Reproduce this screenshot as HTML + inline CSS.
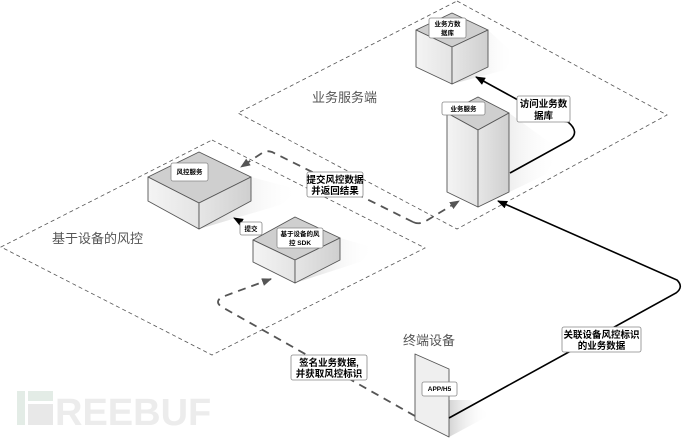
<!DOCTYPE html>
<html><head><meta charset="utf-8"><style>
html,body{margin:0;padding:0;background:#fff;}
svg{display:block}
text{font-family:"Liberation Sans","Noto Sans CJK SC",sans-serif;}
</style></head><body>
<svg width="690" height="438" viewBox="0 0 690 438" xmlns="http://www.w3.org/2000/svg">
<defs>
<linearGradient id="sh" x1="0" y1="0" x2="1" y2="0"><stop offset="0" stop-color="#888" stop-opacity="0.6"/><stop offset="1" stop-color="#fff" stop-opacity="0"/></linearGradient>
<linearGradient id="lf" x1="0" y1="0" x2="1" y2="0"><stop offset="0" stop-color="#f4f4f4"/><stop offset="1" stop-color="#e4e4e4"/></linearGradient>
<linearGradient id="rf" x1="0" y1="0" x2="1" y2="0"><stop offset="0" stop-color="#e6e6e6"/><stop offset="1" stop-color="#cfcfcf"/></linearGradient>
<marker id="ab" markerWidth="10" markerHeight="8" refX="9" refY="4" orient="auto" markerUnits="userSpaceOnUse"><path d="M0,0 L10,4 L0,8 Z" fill="#000"/></marker>
<marker id="ag" markerWidth="10" markerHeight="8" refX="9" refY="4" orient="auto" markerUnits="userSpaceOnUse"><path d="M0,0 L10,4 L0,8 Z" fill="#555"/></marker>
</defs>
<!-- watermark -->
<rect x="17" y="391" width="8" height="34" fill="#e3ece6"/>
<rect x="28" y="391" width="25" height="10" fill="#e3ece6"/>
<rect x="28" y="404" width="25" height="21" fill="#e8e8e8"/>
<text x="55" y="425" font-size="38" font-weight="bold" fill="#ececec" style="font-family:'Liberation Sans',sans-serif">REEBUF</text>
<!-- regions -->
<polygon points="457,1 667,115 457,229 238,113" fill="none" stroke="#555" stroke-width="0.8" stroke-dasharray="4,3"/>
<polygon points="212,140 425,248 212,355 1,247" fill="none" stroke="#555" stroke-width="0.8" stroke-dasharray="4,3"/>
<text x="312" y="102" font-size="13" fill="#555">业务服务端</text>
<text x="52" y="243" font-size="13" fill="#555">基于设备的风控</text>
<text x="403" y="345" font-size="13" fill="#555">终端设备</text>
<!-- shadows -->
<polygon points="251,177 251,201 199,229 280,205 300,190" fill="url(#sh)" opacity="0.6"/>
<polygon points="340,238 340,260 295,283 360,262 375,248" fill="url(#sh)" opacity="0.6"/>
<polygon points="488,30 488,67 452,84 505,70 515,55" fill="url(#sh)" opacity="0.6"/>
<polygon points="509,113 509,192 478,207 545,175 560,150" fill="url(#sh)" opacity="0.6"/>
<polygon points="449,400 449,437 490,415 470,400" fill="url(#sh)" opacity="0.6"/>
<!-- risk box -->
<g stroke="#555" stroke-width="0.9" stroke-linejoin="round">
<polygon points="199,152 251,177 199,203 148,177" fill="#cfcfcf"/>
<polygon points="148,177 199,203 199,229 148,201" fill="url(#lf)"/>
<polygon points="199,203 251,177 251,201 199,229" fill="url(#rf)"/>
<polygon points="295,217 340,238 295,260 253,240" fill="#cfcfcf"/>
<polygon points="253,240 295,260 295,283 253,262" fill="url(#lf)"/>
<polygon points="295,260 340,238 340,260 295,283" fill="url(#rf)"/>
<polygon points="452,13 488,30 452,47 416,30" fill="#cfcfcf"/>
<polygon points="416,30 452,47 452,84 416,67" fill="url(#lf)"/>
<polygon points="452,47 488,30 488,67 452,84" fill="url(#rf)"/>
<polygon points="478,97 509,113 478,130 447,113" fill="#cfcfcf"/>
<polygon points="447,113 478,130 478,207 447,192" fill="url(#lf)"/>
<polygon points="478,130 509,113 509,192 478,207" fill="url(#rf)"/>
<polygon points="415,354 449,369 449,437 415,420" fill="#efefef"/>
</g>
<!-- connectors -->
<path d="M413,222 L272,152 Q266,150 262,153 L241,167" fill="none" stroke="#555" stroke-width="1.8" stroke-dasharray="8,6" marker-end="url(#ag)"/>
<path d="M413,222 Q419,225 426,221 L459,201" fill="none" stroke="#555" stroke-width="1.8" stroke-dasharray="8,6" marker-end="url(#ag)"/>
<path d="M415,416 L222,307 Q214,302 222,297 L271,279" fill="none" stroke="#555" stroke-width="1.8" stroke-dasharray="8,6" marker-end="url(#ag)"/>
<path d="M449,418 L676,293 Q684,287 677,280 L498,201" fill="none" stroke="#000" stroke-width="1.6" marker-end="url(#ab)"/>
<path d="M510,173 L570,140 Q580,132 568,122 L546,118" fill="none" stroke="#000" stroke-width="1.6"/>
<path d="M518,100 L476,77" fill="none" stroke="#000" stroke-width="1.6" marker-end="url(#ab)"/>
<path d="M252,228 L234,218" fill="none" stroke="#000" stroke-width="1.2" marker-end="url(#ab)"/>
<!-- labels -->
<g stroke="#888" stroke-width="0.8" fill="#fff">
<rect x="171" y="163" width="37" height="18" rx="2"/>
<rect x="277" y="228" width="46" height="20" rx="2"/>
<rect x="240" y="222" width="22" height="13" rx="2"/>
<rect x="429" y="18" width="37" height="20" rx="2"/>
<rect x="442" y="102" width="43" height="13" rx="2"/>
<rect x="422" y="382" width="35" height="14" rx="2"/>
<rect x="517" y="96" width="53" height="26" rx="2"/>
<rect x="307" y="172" width="56" height="25" rx="2"/>
<rect x="291" y="355" width="76" height="25" rx="2"/>
<rect x="562" y="327" width="79" height="25" rx="2"/>
</g>
<g font-size="6.5" fill="#000" text-anchor="middle" font-weight="bold">
<text x="189.5" y="174">风控服务</text>
<text x="300" y="236">基于设备的风</text><text x="300" y="245">控 SDK</text>
<text x="251" y="231">提交</text>
<text x="447.5" y="26">业务方数</text><text x="447.5" y="35">据库</text>
<text x="463.5" y="111">业务服务</text>
<text x="439.5" y="391">APP/H5</text>
</g>
<g font-size="9.5" fill="#000" text-anchor="middle" font-weight="bold">
<text x="543.5" y="107">访问业务数</text><text x="543.5" y="119">据库</text>
<text x="335" y="183">提交风控数据</text><text x="335" y="194">并返回结果</text>
<text x="329" y="366">签名业务数据,</text><text x="329" y="377">并获取风控标识</text>
<text x="601.5" y="338">关联设备风控标识</text><text x="601.5" y="349">的业务数据</text>
</g>
</svg>
</body></html>
